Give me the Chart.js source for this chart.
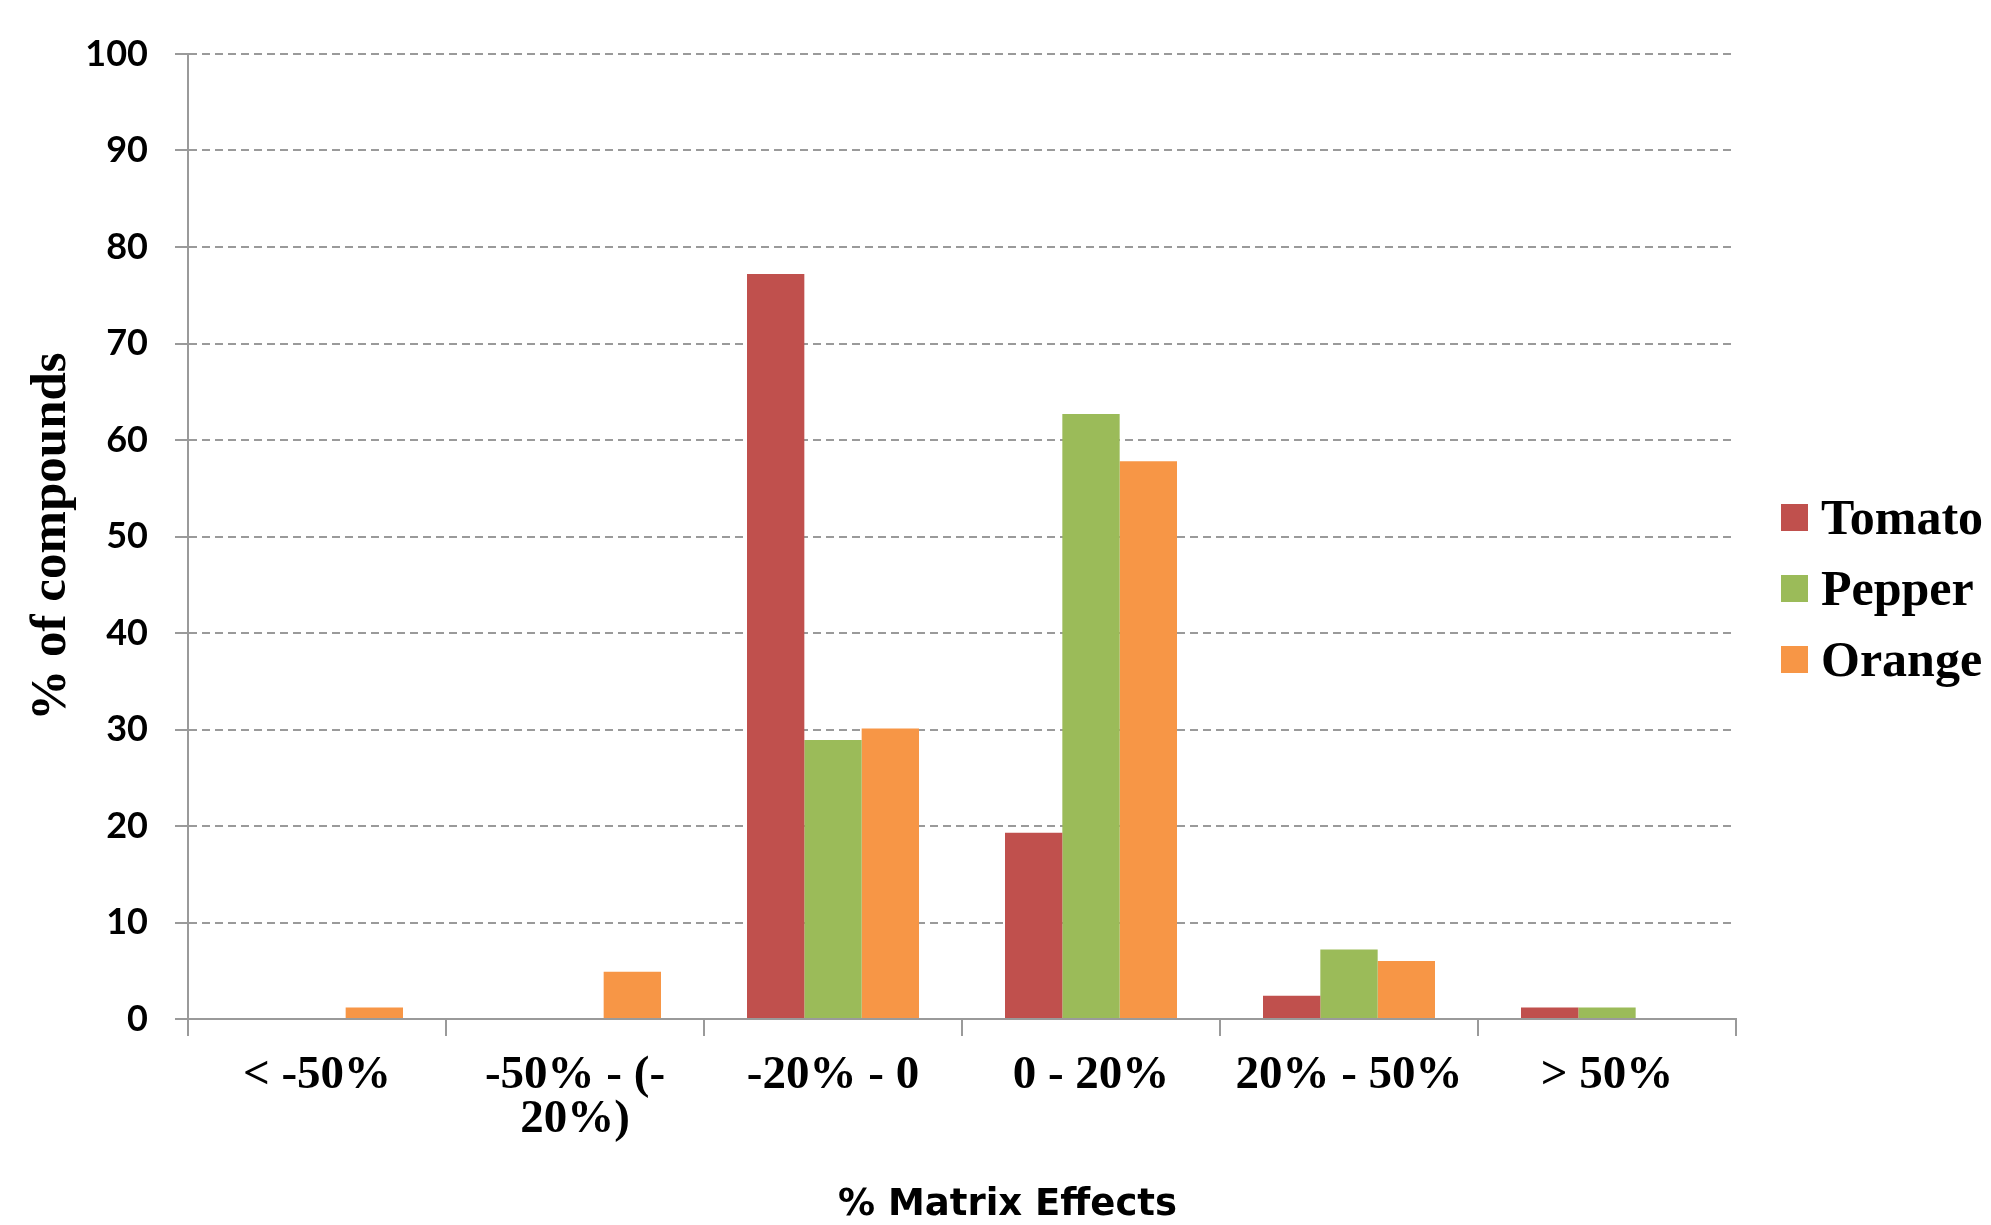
<!DOCTYPE html>
<html>
<head>
<meta charset="utf-8">
<script src="https://cdn.jsdelivr.net/npm/chart.js@4/dist/chart.umd.min.js"></script>
<style>
  html, body { margin: 0; padding: 0; background: #ffffff; }
  #c { display: block; }
</style>
</head>
<body>
<canvas id="c" width="1991" height="1225"></canvas>
<script>
// Matrix-effect ranges (x categories)
const categories = ["< -50%", ["-50% - (-", "20%)"], "-20% - 0", "0 - 20%", "20% - 50%", "> 50%"];

// Share of compounds (%) falling in each range, per matrix
const tomato = [0, 0, 77.2, 19.3, 2.4, 1.2];
const pepper = [0, 0, 28.9, 62.7, 7.2, 1.2];
const orange = [1.2, 4.9, 30.1, 57.8, 6.0, 0];

const seriesNames = ["Tomato", "Pepper", "Orange"];
const seriesColors = ["#C0504D", "#9BBB59", "#F79646"];

// y axis range and tick step
const yMin = 0;
const yMax = 100;
const yStep = 10;

const yTitle = "% of compounds";
const xTitle = "% Matrix Effects";

const gridGrey = "#9a9a9a";

// Draws the x-axis caption and the legend on the right
const captions = {
  id: "captions",
  afterDraw(chart) {
    const { ctx, chartArea } = chart;
    ctx.save();
    ctx.fillStyle = "#000";
    ctx.textAlign = "center";
    ctx.textBaseline = "middle";
    ctx.font = 'bold 37px "DejaVu Sans"';
    ctx.fillText(xTitle, chart.width / 2 + 12, chartArea.bottom + 186);

    const boxX = chartArea.right + 45;
    const rowH = 71;
    const midY = (chartArea.top + chartArea.bottom) / 2 + 52;
    chart.data.datasets.forEach((ds, i) => {
      const cy = midY + (i - 1) * rowH;
      ctx.fillStyle = ds.backgroundColor;
      ctx.fillRect(boxX, cy - 13.5, 27, 27);
      ctx.fillStyle = "#000";
      ctx.textAlign = "left";
      ctx.textBaseline = "alphabetic";
      ctx.font = 'bold 50px "Liberation Serif"';
      ctx.fillText(ds.label, boxX + 40, cy + 16);
    });
    ctx.restore();
  }
};

const seriesData = [tomato, pepper, orange];

new Chart(document.getElementById("c"), {
  type: "bar",
  data: {
    labels: categories,
    datasets: seriesNames.map((name, i) => ({
      label: name,
      data: seriesData[i],
      backgroundColor: seriesColors[i],
      borderWidth: 0,
      categoryPercentage: 3 / 4.5,
      barPercentage: 1.0
    }))
  },
  options: {
    responsive: false,
    animation: false,
    devicePixelRatio: 1,
    layout: { padding: { left: 0, right: 255, top: 54, bottom: 46 } },
    plugins: {
      legend: { display: false },
      tooltip: { enabled: false },
      title: { display: false }
    },
    scales: {
      x: {
        grid: {
          offset: true,
          drawOnChartArea: false,
          drawTicks: true,
          tickLength: 17,
          color: gridGrey,
          lineWidth: 2
        },
        border: { display: true, color: gridGrey, width: 2 },
        ticks: {
          color: "#000",
          font: { family: '"Liberation Serif"', weight: "bold", size: 47, lineHeight: 0.94 },
          padding: 18,
          maxRotation: 0,
          autoSkip: false
        },
        afterFit(scale) { scale.height = 160; }
      },
      y: {
        min: yMin,
        max: yMax,
        ticks: {
          stepSize: yStep,
          color: "#000",
          font: { family: "Lato", weight: "bold", size: 36 },
          padding: 27
        },
        grid: {
          color: (c) => (c.tick && c.tick.value === 0 ? "rgba(0,0,0,0)" : gridGrey),
          tickColor: gridGrey,
          lineWidth: 2,
          tickLength: 13
        },
        border: { display: true, color: gridGrey, width: 2, dash: [8, 5] },
        title: {
          display: true,
          text: yTitle,
          color: "#000",
          font: { family: '"Liberation Serif"', weight: "bold", size: 51, lineHeight: 1 },
          padding: { top: 26, bottom: 0 }
        },
        afterFit(scale) { scale.width = 188; }
      }
    }
  },
  plugins: [captions]
});
</script>
</body>
</html>
